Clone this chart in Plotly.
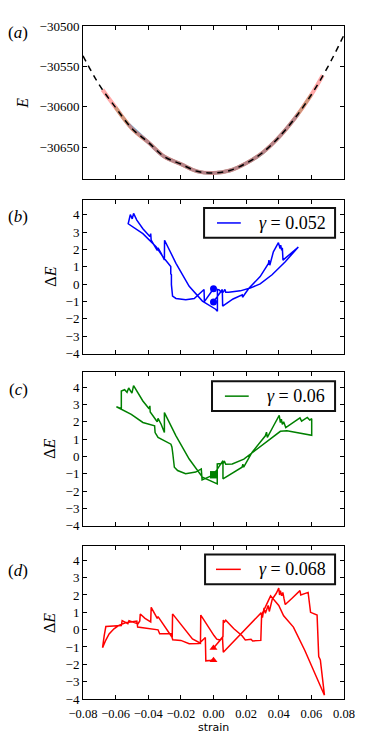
import plotly.graph_objects as go
from plotly.subplots import make_subplots

# ---- panel (a): total energy vs strain ----
FIT_STRAIN = [-0.08, -0.07, -0.06, -0.05, -0.04, -0.03, -0.02, -0.01, 0.0,
              0.01, 0.02, 0.03, 0.04, 0.05, 0.06, 0.07, 0.08]
FIT_E = [-30537, -30573, -30601, -30627, -30644, -30662, -30671, -30680, -30682,
         -30679, -30670, -30657, -30638, -30614, -30585, -30551, -30511]

E_STRAIN_B = [-0.052, -0.04, -0.03, -0.02, -0.01, 0.0, 0.01, 0.02, 0.03, 0.04, 0.052]
E_B = [-30622, -30644, -30662, -30671, -30680, -30682, -30679, -30670, -30657, -30638, -30609]
E_STRAIN_C = [-0.06, -0.05, -0.04, -0.03, -0.02, -0.01, 0.0, 0.01, 0.02, 0.03, 0.04, 0.05, 0.06]
E_C = [-30601, -30627, -30644, -30662, -30671, -30680, -30682, -30679, -30670, -30657, -30638, -30614, -30585]
E_STRAIN_D = [-0.068, -0.06, -0.05, -0.04, -0.03, -0.02, -0.01, 0.0, 0.01, 0.02, 0.03,
              0.04, 0.05, 0.06, 0.067]
E_D = [-30579, -30601, -30627, -30644, -30662, -30671, -30680, -30682, -30679, -30670,
       -30657, -30638, -30614, -30585, -30561]

# ---- panel (b): gamma = 0.052 ----
STRAIN_B = [0.0, 0.0054, 0.0056, 0.012, 0.0176, 0.0178, 0.0217, 0.0286, 0.0337, 0.034,
            0.0345, 0.0367, 0.0398, 0.0408, 0.0412, 0.0418, 0.0422, 0.0426, 0.052,
            0.044, 0.0359, 0.0286, 0.0225, 0.0164, 0.0093, 0.0075, 0.007, 0.006,
            0.0045, 0.0035, 0.0024, 0.0024, 0.0013, -0.0068, -0.0149, -0.023, -0.030,
            -0.0301, -0.0321, -0.034, -0.0345, -0.0382, -0.0385, -0.039, -0.0433,
            -0.047, -0.049, -0.0498, -0.051, -0.0518, -0.0523,
            -0.0433, -0.0352, -0.031, -0.0271, -0.0262, -0.0262, -0.0258, -0.0258,
            -0.0251, -0.023, -0.017, -0.0118, -0.0058, -0.0056, 0.0]
DE_B = [-1.02, -0.30, -1.26, -0.85, -0.61, -0.75, -0.23, 0.44, 1.20, 1.39,
        1.10, 1.87, 2.40, 2.06, 2.25, 1.96, 2.10, 1.39, 2.15,
        1.30, 0.55, 0.02, -0.22, -0.38, -0.46, -0.46, -0.30, -0.45,
        -0.45, -0.32, -0.30, -1.56, -1.44, -0.97, -0.12, 1.21, 2.54,
        1.40, 1.78, 2.10, 1.95, 2.54, 2.92, 2.75, 3.20,
        3.70, 4.09, 3.77, 4.02, 3.58, 3.49,
        2.92, 2.16, 1.59, 1.12, 1.02, 0.60, 0.55, -0.02,
        -0.68, -0.82, -0.90, -0.82, -0.30, -1.00, -0.26]
MARK_B = [-0.26, -1.02]

# ---- panel (c): gamma = 0.06 ----
STRAIN_C = [0.0, 0.0058, 0.0058, 0.0175, 0.018, 0.0185, 0.0236, 0.0318, 0.0325, 0.033,
            0.037, 0.0403, 0.041, 0.0416, 0.0422, 0.043, 0.0443, 0.053, 0.054, 0.0575,
            0.059, 0.0602, 0.0602,
            0.05, 0.045, 0.041, 0.0348, 0.0257, 0.0186, 0.0115, 0.0075, 0.0068, 0.006,
            0.0045, 0.0023, 0.0023, -0.001, -0.0068, -0.0149, -0.023, -0.0301, -0.0301,
            -0.0321, -0.034, -0.0345, -0.0388, -0.039, -0.0395, -0.0433, -0.049, -0.05,
            -0.052, -0.053, -0.0545, -0.0565, -0.0565, -0.0595,
            -0.0565, -0.0504, -0.0433, -0.0361, -0.0358, -0.034, -0.0261, -0.0255,
            -0.025, -0.024, -0.022, -0.0171, -0.0109, -0.0088, -0.0075, -0.007, 0.0]
DE_C = [-1.06, -0.24, -1.29, -0.62, -0.45, -0.62, 0.24, 1.19, 1.40, 1.10,
        1.80, 2.37, 1.95, 2.15, 1.85, 2.00, 1.67, 2.23, 2.04, 2.25,
        2.10, 2.18, 1.22,
        1.40, 1.48, 1.45, 1.00, 0.33, -0.15, -0.43, -0.45, -0.30, -0.38,
        -0.40, -0.43, -1.58, -1.45, -1.19, -0.15, 1.19, 2.53, 1.38,
        1.86, 2.20, 2.00, 2.57, 2.92, 2.75, 3.20, 4.09, 3.65,
        3.95, 3.70, 3.85, 3.77, 2.76, 2.87,
        2.72, 2.43, 1.96, 1.77, 1.38, 1.10, 0.71, 0.55,
        0.20, -0.62, -0.81, -1.00, -0.90, -0.78, -0.72, -1.35, -1.06]
MARK_C = [-1.06, -1.06]

# ---- panel (d): gamma = 0.068 ----
STRAIN_D = [0.0, 0.003, 0.0055, 0.006, 0.012, 0.0175, 0.023, 0.029, 0.030, 0.031,
            0.0318, 0.0335, 0.0342, 0.036, 0.0385, 0.040, 0.0405, 0.041, 0.0418,
            0.0425, 0.0432, 0.044, 0.048, 0.0525, 0.053, 0.0535, 0.058, 0.0595,
            0.0635, 0.0645, 0.0655, 0.068,
            0.062, 0.056, 0.049, 0.043, 0.040, 0.035, 0.0295, 0.029, 0.024, 0.023,
            0.0195, 0.0175, 0.0125, 0.0075, 0.0068, 0.006, 0.0058, 0.004, 0.002,
            0.0003, -0.0078, -0.008, -0.0129, -0.0251, -0.0253, -0.034, -0.0345,
            -0.0382, -0.0385, -0.042, -0.0449, -0.0452, -0.0463, -0.0518, -0.0525,
            -0.056, -0.0565, -0.066, -0.067, -0.0672, -0.068,
            -0.066, -0.064, -0.061, -0.058, -0.054, -0.05, -0.047, -0.0465, -0.0403,
            -0.034, -0.033, -0.026, -0.025, -0.02, -0.0149, -0.0088, -0.005, -0.0047, 0.0]
DE_D = [-1.06, -0.75, -0.45, -1.30, -0.70, -0.20, 0.35, 0.95, 0.70, 1.25,
        0.95, 1.40, 1.05, 1.75, 2.10, 2.40, 2.00, 2.25, 1.95,
        2.15, 1.80, 1.45, 1.80, 2.20, 2.25, 2.00, 2.15, 1.00,
        0.85, -1.55, -1.75, -3.78,
        -2.50, -1.20, 0.15, 0.80, 1.40, 1.95, 0.85, -0.62, -0.65, -0.55,
        -0.60, -0.35, 0.05, 0.55, 0.45, 0.55, -0.40, -0.60, -0.55,
        -0.34, 0.84, -0.78, -0.53, 0.91, -0.45, 0.75, 0.65,
        1.29, 0.45, 0.65, 0.90, 0.50, 0.33, 0.52, 0.35,
        0.52, 0.24, 0.18, -0.35, -0.52, -1.04,
        -0.60, -0.25, 0.05, 0.25, 0.40, 0.47, 0.50, 0.15, 0.05,
        -0.01, -0.24, -0.24, -0.58, -0.62, -0.81, -0.80, -0.45, -1.80, -1.77]
MARK_D = [-1.06, -1.77]

X_TICKS = [-0.08, -0.06, -0.04, -0.02, 0.0, 0.02, 0.04, 0.06, 0.08]
X_TICKTEXT = ["\u22120.08", "\u22120.06", "\u22120.04", "\u22120.02", "0.00",
              "0.02", "0.04", "0.06", "0.08"]
E_TICKS = [-30650, -30600, -30550, -30500]
DE_TICKS = [-4, -3, -2, -1, 0, 1, 2, 3, 4]


def minus(v):
    return str(v).replace("-", "\u2212")


SERIF = "Liberation Serif"
H = 680.0


# page-pixel helpers: plot area spans x 83..346, y 19..699 in the browser window
def px_x(px):
    return (px - 83) / 263.0


def px_y(py):
    return 1 - (py - 19) / H


fig = make_subplots(rows=4, cols=1)

# panel (a)
for xs, es, col, w in [(E_STRAIN_C, E_C, "rgba(60,170,60,0.6)", 3.5),
                       (E_STRAIN_B, E_B, "rgba(40,140,200,0.6)", 3.5),
                       (E_STRAIN_D, E_D, "rgba(255,110,110,0.6)", 4)]:
    fig.add_trace(go.Scatter(x=xs, y=es, mode="lines", showlegend=False,
                             line=dict(color=col, width=w, shape="spline")), row=1, col=1)
fig.add_trace(go.Scatter(x=FIT_STRAIN, y=FIT_E, mode="lines", showlegend=False,
                         line=dict(color="black", width=1.5, dash="6px,5px", shape="spline")),
              row=1, col=1)

# panels (b)-(d) with hand-placed legend boxes (pixel boxes, line sample, text x)
panels = [(STRAIN_B, DE_B, MARK_B, "#0000ff", "circle", "0.052", (205, 337, 203, 233), (218, 242), 258),
          (STRAIN_C, DE_C, MARK_C, "#008000", "square", "0.06", (213, 337, 378, 408), (226, 250), 266),
          (STRAIN_D, DE_D, MARK_D, "#ff0000", "triangle-up", "0.068", (206, 337, 553, 583), (217, 242), 258)]
for i, (xs, ys, mk, col, sym, gam, box, seg, tx) in enumerate(panels):
    r = i + 2
    fig.add_trace(go.Scatter(x=xs, y=ys, mode="lines", showlegend=False,
                             line=dict(color=col, width=1.5)), row=r, col=1)
    fig.add_trace(go.Scatter(x=[0.0, 0.0], y=mk, mode="markers", showlegend=False,
                             marker=dict(color=col, size=7, symbol=sym)), row=r, col=1)
    x0, x1, y0, y1 = box
    ym = (y0 + y1) / 2
    fig.add_shape(type="rect", xref="paper", yref="paper", x0=px_x(x0), x1=px_x(x1),
                  y0=px_y(y1), y1=px_y(y0), fillcolor="white",
                  line=dict(color="#111", width=2))
    fig.add_shape(type="line", xref="paper", yref="paper", x0=px_x(seg[0]), x1=px_x(seg[1]),
                  y0=px_y(ym), y1=px_y(ym), line=dict(color=col, width=1.5))
    fig.add_annotation(text="<i>\u03b3</i> = " + gam, x=px_x(tx), y=px_y(ym), xref="paper",
                       yref="paper", showarrow=False, xanchor="left", yanchor="middle",
                       font=dict(family=SERIF, size=18, color="black"))

# layout: fixed pixel geometry of the four panels
doms = [(19, 174), (195, 350), (369, 524), (544, 699)]
axis_common = dict(showline=True, linecolor="black", linewidth=1, mirror="allticks",
                   ticks="inside", ticklen=4, tickcolor="black", showgrid=False,
                   zeroline=False, tickangle=0)
for i, (top, bot) in enumerate(doms):
    n = "" if i == 0 else str(i + 1)
    fig.layout["xaxis" + n].update(range=[-0.08, 0.08], tickvals=X_TICKS,
                                   ticktext=X_TICKTEXT, showticklabels=(i == 3),
                                   ticklabelstandoff=3,
                                   tickfont=dict(family=SERIF, size=12.5, color="black"),
                                   **axis_common)
    if i == 0:
        yr, tv = [-30690, -30500], E_TICKS
    else:
        yr, tv = [-4, 4.85], DE_TICKS
    fig.layout["yaxis" + n].update(range=yr, tickvals=tv, ticktext=[minus(v) for v in tv],
                                   domain=[px_y(bot), px_y(top)],
                                   tickfont=dict(family=SERIF, size=13, color="black"),
                                   **axis_common)

# the page body adds an 8px margin, so the figure is shrunk and shifted to compensate
fig.update_layout(width=358, height=731, paper_bgcolor="white", plot_bgcolor="white",
                  margin=dict(l=75, r=20, t=11, b=40), showlegend=False)

# panel letters and axis titles
labels = [("(<i>a</i>)", 18, 26), ("(<i>b</i>)", 18, 211), ("(<i>c</i>)", 18, 386),
          ("(<i>d</i>)", 18, 569)]
for txt, px, py in labels:
    fig.add_annotation(text=txt, x=px_x(px), y=px_y(py), xref="paper", yref="paper",
                       showarrow=False, xanchor="center", yanchor="middle",
                       font=dict(family=SERIF, size=17, color="black"))
ylabels = [("<i>E</i>", 22, 97), ("\u0394<i>E</i>", 50, 272), ("\u0394<i>E</i>", 49, 446),
           ("\u0394<i>E</i>", 50, 622)]
for txt, px, py in ylabels:
    fig.add_annotation(text=txt, x=px_x(px), y=px_y(py), xref="paper", yref="paper",
                       showarrow=False, textangle=-90, xanchor="center", yanchor="middle",
                       font=dict(family=SERIF, size=16, color="black"))
fig.add_annotation(text="strain", x=px_x(214.5), y=px_y(728), xref="paper", yref="paper",
                   showarrow=False, xanchor="center", yanchor="middle",
                   font=dict(family="DejaVu Sans", size=11, color="black"))

fig.write_html("out.html")
